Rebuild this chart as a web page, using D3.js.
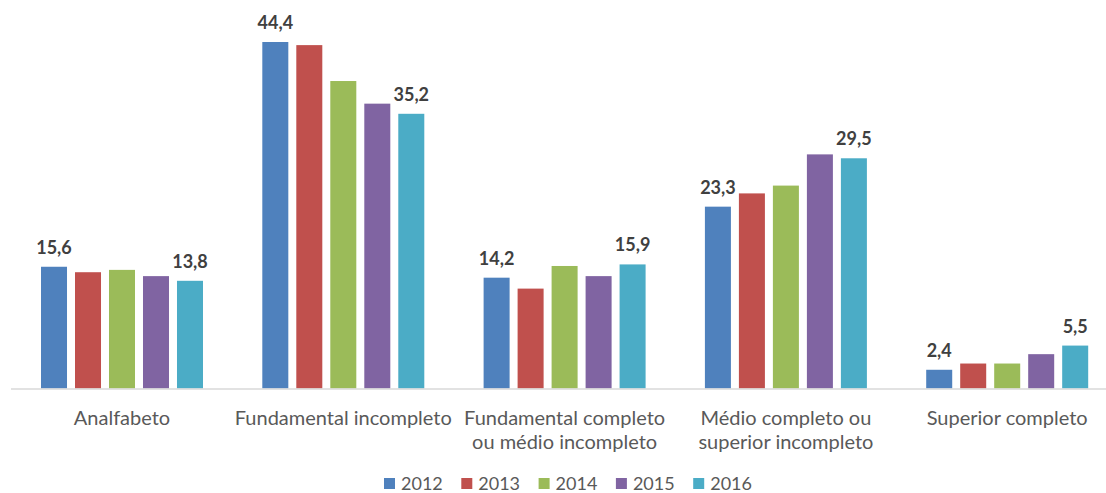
<!DOCTYPE html>
<html>
<head>
<meta charset="utf-8">
<script src="https://cdn.jsdelivr.net/npm/d3@7"></script>
<style>
  body { margin: 0; background: #fff; }
  text { font-family: Lato, "Open Sans", sans-serif; }
</style>
</head>
<body>
<div id="grafico"></div>
<script>
// Datos
const categorias = [
  ["Analfabeto"],
  ["Fundamental incompleto"],
  ["Fundamental completo", "ou médio incompleto"],
  ["Médio completo ou", "superior incompleto"],
  ["Superior completo"]
];
const anos = ["2012", "2013", "2014", "2015", "2016"];
const valores = {
  "2012": [15.6, 44.4, 14.2, 23.3, 2.4],
  "2013": [14.9, 44.0, 12.8, 25.0, 3.2],
  "2014": [15.2, 39.4, 15.7, 26.0, 3.2],
  "2015": [14.4, 36.5, 14.4, 30.0, 4.4],
  "2016": [13.8, 35.2, 15.9, 29.5, 5.5]
};
const colores = ["#4F81BD", "#C0504D", "#9BBB59", "#8064A2", "#4BACC6"];
// solo se etiquetan el primer y el último año
const conEtiqueta = ["2012", "2016"];

const WIDTH = 1106;
const HEIGHT = 493;
const baseY = 388.5;

var svg = d3.select("#grafico")
  .append("svg")
  .attr("width", WIDTH)
  .attr("height", HEIGHT);

var x0 = d3.scaleBand()
  .domain(d3.range(categorias.length))
  .range([11.35, 1117.85])
  .paddingInner(0.268)
  .paddingOuter(0.134);

var x1 = d3.scaleBand()
  .domain(anos)
  .range([0, x0.bandwidth()])
  .paddingInner(0.235);

var y = d3.scaleLinear()
  .domain([0, 44.4])
  .range([baseY, 42]);

var color = d3.scaleOrdinal().domain(anos).range(colores);

// grupos por categoría
var grupos = svg.selectAll("g.grupo")
  .data(categorias.map((c, i) => i))
  .enter()
  .append("g")
  .attr("class", "grupo")
  .attr("transform", i => "translate(" + x0(i) + ",0)");

grupos.selectAll("rect")
  .data(i => anos.map(a => ({ ano: a, valor: valores[a][i] })))
  .enter()
  .append("rect")
  .attr("x", d => x1(d.ano))
  .attr("y", d => y(d.valor))
  .attr("width", x1.bandwidth())
  .attr("height", d => y(0) - y(d.valor))
  .attr("fill", d => color(d.ano));

grupos.selectAll("text.etiqueta")
  .data(i => anos.filter(a => conEtiqueta.includes(a)).map(a => ({ ano: a, valor: valores[a][i] })))
  .enter()
  .append("text")
  .attr("class", "etiqueta")
  .attr("x", d => x1(d.ano) + x1.bandwidth() / 2)
  .attr("y", d => y(d.valor) - 13)
  .attr("text-anchor", "middle")
  .style("font-size", "18px")
  .style("font-weight", "bold")
  .style("fill", "#404040")
  .text(d => d.valor.toFixed(1).replace(".", ","));

// línea del eje
svg.append("line")
  .attr("x1", 11)
  .attr("x2", WIDTH)
  .attr("y1", baseY + 0.5)
  .attr("y2", baseY + 0.5)
  .style("stroke", "#D9D9D9")
  .style("stroke-width", 1.5);

// nombres de categorías
var nombres = svg.selectAll("text.cat")
  .data(categorias)
  .enter()
  .append("text")
  .attr("class", "cat")
  .attr("x", (d, i) => x0(i) + x0.bandwidth() / 2)
  .attr("y", 425)
  .attr("text-anchor", "middle")
  .style("font-size", "20px")
  .style("fill", "#595959");

nombres.selectAll("tspan")
  .data(d => d)
  .enter()
  .append("tspan")
  .attr("x", function () { return d3.select(this.parentNode).attr("x"); })
  .attr("dy", (d, i) => i == 0 ? 0 : 24)
  .text(d => d);

// leyenda
var leyenda = svg.selectAll("g.leyenda")
  .data(anos)
  .enter()
  .append("g")
  .attr("class", "leyenda")
  .attr("transform", (d, i) => "translate(" + (384 + i * 77.3) + ",478)");

leyenda.append("rect")
  .attr("width", 11)
  .attr("height", 11)
  .attr("fill", d => color(d));

leyenda.append("text")
  .attr("x", 17)
  .attr("y", 11.5)
  .style("font-size", "18px")
  .style("fill", "#595959")
  .text(d => d);
</script>
</body>
</html>
